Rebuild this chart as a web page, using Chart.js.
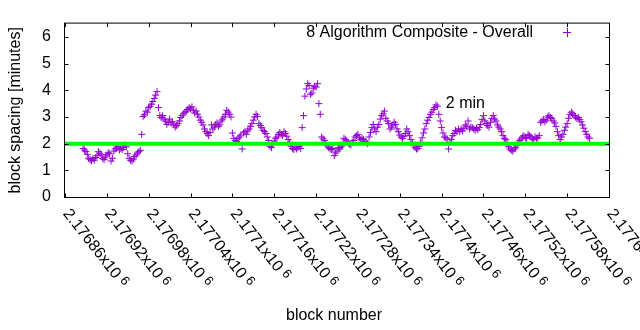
<!DOCTYPE html>
<html>
<head>
<meta charset="utf-8">
<script src="https://cdn.jsdelivr.net/npm/chart.js@4"></script>
<style>
  html, body { margin: 0; padding: 0; background: #ffffff; }
  canvas { display: block; }
</style>
</head>
<body>
<canvas id="spacingChart" width="640" height="330"></canvas>
<script>
// block spacing, one reading every 2 blocks starting at firstBlock
const firstBlock = 2176886;
const blockStep = 2;

const spacing = [
  1.82, 1.76, 1.70, 1.60, 1.45, 1.40, 1.36, 1.44, 1.38, 1.48,
  1.55, 1.70, 1.64, 1.58, 1.45, 1.40, 1.50, 1.58, 1.66, 1.62,
  1.35, 1.45, 1.72, 1.80, 1.84, 1.90, 1.76, 1.82, 1.78, 1.86,
  1.95, 1.88, 1.62, 1.45, 1.38, 1.35, 1.42, 1.52, 1.58, 1.65,
  1.70, 1.75, 2.35, 3.02, 3.08, 3.22, 3.18, 3.35, 3.40, 3.48,
  3.58, 3.70, 3.82, 3.95, 3.35, 3.05, 2.98, 3.05, 2.92, 2.85,
  2.72, 2.80, 2.92, 2.78, 2.82, 2.70, 2.62, 2.68, 2.75, 2.85,
  2.98, 3.05, 3.12, 3.18, 3.22, 3.28, 3.35, 3.30, 3.38, 3.25,
  3.15, 3.22, 3.10, 3.00, 2.88, 2.80, 2.70, 2.55, 2.45, 2.38,
  2.30, 2.42, 2.70, 2.55, 2.62, 2.72, 2.78, 2.65, 2.70, 2.85,
  2.92, 3.00, 3.10, 3.25, 3.18, 3.10, 3.00, 2.40, 2.20, 2.12,
  2.08, 2.18, 2.25, 2.32, 1.80, 2.40, 2.45, 2.35, 2.48, 2.55,
  2.65, 2.75, 2.88, 3.00, 3.10, 3.02, 2.75, 2.68, 2.60, 2.50,
  2.45, 2.38, 2.25, 2.12, 1.90, 1.85, 1.98, 2.10, 2.20, 2.25,
  2.35, 2.42, 2.35, 2.30, 2.45, 2.38, 2.28, 2.15, 2.05, 1.90,
  1.82, 1.78, 1.86, 1.80, 1.85, 1.90, 1.82, 2.60, 3.05, 3.78,
  4.05, 4.25, 4.18, 3.85, 3.90, 4.08, 4.15, 4.12, 4.25, 3.50,
  3.10, 2.25, 2.18, 2.12, 2.00, 1.92, 1.85, 1.80, 1.78, 1.82,
  1.55, 1.65, 1.72, 1.85, 1.80, 1.88, 1.95, 2.20, 2.15, 2.10,
  2.02, 1.98, 1.95, 2.05, 2.12, 2.25, 2.30, 2.35, 2.22, 2.15,
  2.20, 2.15, 2.08, 2.05, 2.00, 2.25, 2.42, 2.60, 2.72, 2.55,
  2.45, 2.62, 2.72, 2.92, 3.05, 3.12, 3.22, 2.95, 2.85, 2.75,
  2.55, 2.62, 2.70, 2.80, 2.72, 2.55, 2.45, 2.32, 2.25, 2.20,
  2.28, 2.38, 2.55, 2.45, 2.30, 2.15, 2.05, 1.92, 1.85, 1.80,
  1.82, 1.90, 2.05, 2.22, 2.40, 2.55, 2.75, 2.88, 2.98, 3.10,
  3.18, 3.28, 3.35, 3.45, 3.40, 3.10, 2.85, 2.60, 2.40, 2.25,
  2.22, 2.18, 1.80, 2.05, 2.15, 2.30, 2.38, 2.50, 2.45, 2.55,
  2.45, 2.55, 2.48, 2.58, 2.70, 2.65, 2.85, 2.55, 2.62, 2.60,
  2.55, 2.50, 2.58, 2.52, 2.60, 2.72, 2.90, 3.05, 2.85, 2.75,
  2.68, 2.62, 2.80, 2.95, 3.05, 2.92, 2.85, 2.70, 2.62, 2.55,
  2.45, 2.30, 2.20, 2.15, 2.00, 1.88, 1.80, 1.75, 1.72, 1.80,
  1.85, 1.92, 2.05, 2.12, 2.18, 2.25, 2.30, 2.22, 2.20, 2.35,
  2.30, 2.25, 2.18, 2.15, 2.25, 2.20, 2.22, 2.30, 2.80, 2.85,
  2.90, 2.82, 2.88, 3.00, 3.05, 2.98, 2.95, 2.85, 2.78, 2.65,
  2.45, 2.30, 2.15, 2.25, 2.35, 2.50, 2.62, 2.75, 2.95, 3.10,
  3.18, 3.12, 3.05, 3.00, 2.95, 2.98, 2.90, 2.82, 2.70, 2.58,
  2.45, 2.35, 2.25, 2.20
];

const xTicks = [2176860, 2176920, 2176980, 2177040, 2177100, 2177160, 2177220,
                2177280, 2177340, 2177400, 2177460, 2177520, 2177580, 2177640];
const xTickLabels = ["2.17686", "2.17692", "2.17698", "2.17704", "2.1771", "2.17716", "2.17722",
                     "2.17728", "2.17734", "2.1774", "2.17746", "2.17752", "2.17758", "2.17764"];

const targetMinutes = 2;
const seriesName = "8 Algorithm Composite - Overall";

const xMin = xTicks[0];
const xMax = xTicks[xTicks.length - 1];

const points = spacing.map((v, i) => ({ x: firstBlock + i * blockStep, y: v }));

const FONT = '"Liberation Sans", Arial, sans-serif';
Chart.defaults.font.family = FONT;
Chart.defaults.font.size = 16;
Chart.defaults.color = "#000000";

// gnuplot look: frame with inner tics, slanted x labels, key and label
const gnuplotFrame = {
  id: "gnuplotFrame",
  afterDraw(chart) {
    const { ctx, chartArea, scales } = chart;
    const x = scales.x, y = scales.y;
    const L = chartArea.left - 0.5, R = chartArea.right + 0.5;
    const T = chartArea.top - 0.5, B = chartArea.bottom + 0.5;

    ctx.save();
    ctx.strokeStyle = "#000000";
    ctx.lineWidth = 1;
    ctx.strokeRect(L, T, R - L, B - T);

    ctx.beginPath();
    xTicks.forEach(v => {
      const px = Math.round(x.getPixelForValue(v)) + 0.5;
      ctx.moveTo(px, B); ctx.lineTo(px, B - 4);
      ctx.moveTo(px, T); ctx.lineTo(px, T + 4);
    });
    y.ticks.forEach(t => {
      const py = Math.round(y.getPixelForValue(t.value)) + 0.5;
      ctx.moveTo(L, py); ctx.lineTo(L + 4, py);
      ctx.moveTo(R, py); ctx.lineTo(R - 4, py);
    });
    ctx.stroke();

    // x tick labels
    ctx.fillStyle = "#000000";
    xTicks.forEach((v, i) => {
      const px = x.getPixelForValue(v);
      ctx.save();
      ctx.translate(px + 1, chartArea.bottom + 14);
      ctx.rotate(52 * Math.PI / 180);
      ctx.font = "16px " + FONT;
      ctx.textAlign = "left";
      ctx.textBaseline = "middle";
      const txt = xTickLabels[i] + "x10";
      ctx.fillText(txt, 0, 0);
      const w = ctx.measureText(txt).width;
      ctx.font = "13px " + FONT;
      ctx.fillText("6", w + 4, -3);
      ctx.restore();
    });

    // x axis title
    ctx.font = "16px " + FONT;
    ctx.textAlign = "center";
    ctx.textBaseline = "middle";
    ctx.fillText("block number", 334, 316);

    // key
    ctx.textAlign = "right";
    ctx.fillText(seriesName, 533, 33);
    ctx.strokeStyle = "#9400d3";
    ctx.beginPath();
    ctx.moveTo(563, 32.5); ctx.lineTo(571, 32.5);
    ctx.moveTo(567.5, 28); ctx.lineTo(567.5, 37);
    ctx.stroke();

    // label near the target line
    ctx.textAlign = "left";
    ctx.fillText("2 min", x.getPixelForValue(2177406), y.getPixelForValue(3.5));
    ctx.restore();
  }
};

new Chart(document.getElementById("spacingChart"), {
  type: "scatter",
  data: {
    datasets: [
      {
        type: "line",
        label: "2 min",
        data: [{ x: xMin, y: targetMinutes }, { x: xMax, y: targetMinutes }],
        borderColor: "#00ff00",
        borderWidth: 4,
        borderCapStyle: "butt",
        pointRadius: 0,
        order: 0
      },
      {
        label: seriesName,
        data: points,
        pointStyle: "cross",
        pointRadius: 3.5,
        borderColor: "#9400d3",
        backgroundColor: "#9400d3",
        borderWidth: 1,
        order: 1
      }
    ]
  },
  options: {
    responsive: false,
    animation: false,
    events: [],
    layout: { padding: { left: 0, top: 19, right: 31, bottom: 0 } },
    plugins: {
      legend: { display: false },
      tooltip: { enabled: false }
    },
    scales: {
      x: {
        type: "linear",
        min: xMin,
        max: xMax,
        grid: { display: false },
        border: { display: false },
        ticks: { display: false },
        afterFit(scale) { scale.height = 133; }
      },
      y: {
        min: 0,
        max: 6.5,
        grid: { display: false, drawTicks: false },
        border: { display: false },
        ticks: { stepSize: 1, includeBounds: false, padding: 14, color: "#000000" },
        title: {
          display: true,
          text: "block spacing [minutes]",
          color: "#000000",
          padding: { top: 6, bottom: 0 }
        },
        afterFit(scale) { scale.width = 65; }
      }
    }
  },
  plugins: [gnuplotFrame]
});
</script>
</body>
</html>
